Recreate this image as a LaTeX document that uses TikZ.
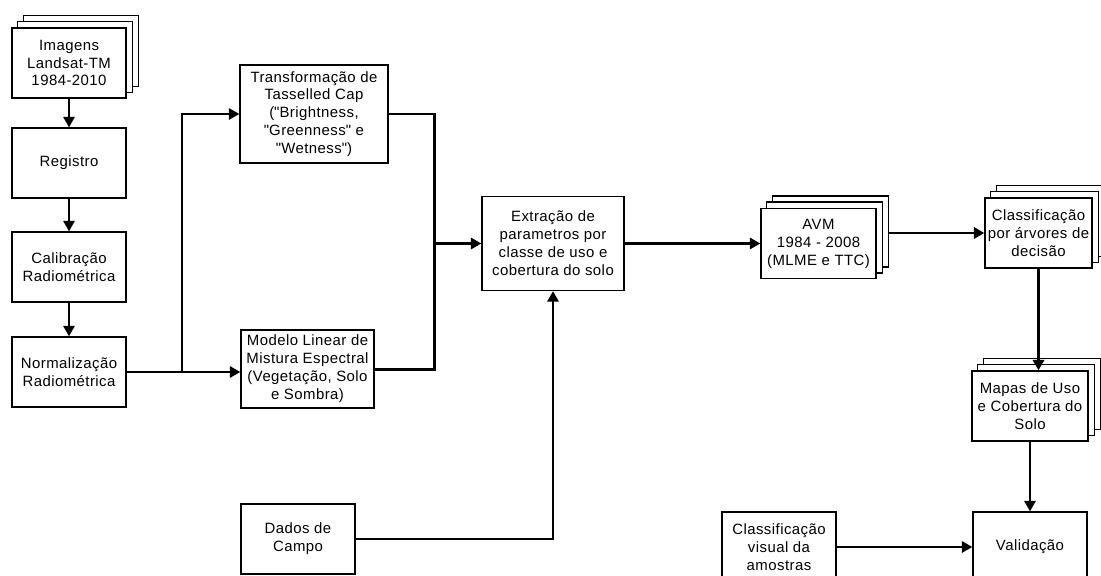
\documentclass[tikz,border=0pt]{standalone}
\usepackage{fontspec}
\setmainfont[LetterSpace=3]{Liberation Sans}
\usetikzlibrary{arrows.meta,backgrounds}

\newcommand{\dq}{\XeTeXglyph\XeTeXglyphindex "quotedbl"\relax}

\tikzset{
    box/.style={rectangle,draw,line width=0.8pt,fill=white,align=center,
        minimum width=2.28cm,minimum height=1.4cm,inner sep=1pt,
        font=\fontsize{8.5}{10.2}\selectfont},
    sheet/.style={draw,line width=0.8pt,fill=white},
    flow/.style={line width=1.2pt,-{Triangle[length=6pt,width=6.5pt]}},
    bigflow/.style={line width=1.7pt,-{Triangle[length=6pt,width=6.5pt]}},
    joint/.style={line width=1.7pt}
}

\begin{document}
\begin{tikzpicture}[x=0.02cm,y=-0.02cm]
    \useasboundingbox (0,0) rectangle (1101,575);

    %%%%%%%%%%%%%%%%%%%%%%%%%%%%%%%%%%%%%%%%%%%%%%%%%%%%%%

    % pre-processing chain
    \node[box] (img) at (69,63) {Imagens\\Landsat-TM\\1984-2010};
    \node[box] (reg) at (69,163) {Registro};
    \node[box] (cal) at (69,267) {Calibração\\Radiométrica};
    \node[box] (norm) at (69,372) {Normalização\\Radiométrica};

    \draw[flow] (img) to (reg);
    \draw[flow] (reg) to (cal);
    \draw[flow] (cal) to (norm);

    %%%%%%%%%%%%%%%%%%%%%%%%%%%%%%%%%%%%%%%%%%%%%%%%%%%%%%

    % tasselled cap and mixture model
    \node[box,minimum width=2.96cm,minimum height=1.96cm] (tc) at (314,114)
        {Transformação de\\Tasselled Cap\\(\dq Brightness,\\\dq Greenness\dq{} e\\\dq Wetness\dq)};
    \node[box,minimum width=2.66cm,minimum height=1.56cm] (mlme) at (307.5,369)
        {Modelo Linear de\\Mistura Espectral\\(Vegetação, Solo\\e Sombra)};

    \coordinate (split) at (182,372);
    \draw[line width=1.2pt] (norm.east |- split) to (split);
    \draw[flow] (split) to (mlme.west |- split);
    \draw[flow] (split) |- (tc.west);

    %%%%%%%%%%%%%%%%%%%%%%%%%%%%%%%%%%%%%%%%%%%%%%%%%%%%%%

    % parameter extraction
    \node[box,minimum width=2.84cm,minimum height=1.88cm] (extr) at (553,243.5)
        {Extração de\\parametros por\\classe de uso e\\cobertura do solo};

    \coordinate (merge) at (434,243.5);
    \draw[joint] (tc.east) -| (merge);
    \draw[joint] (mlme.east) -| (merge);
    \draw[flow] (merge) to (extr.west);

    % field data
    \node[box] (dados) at (298,539) {Dados de\\Campo};
    \draw[flow] (dados.east) -| (extr.south);

    %%%%%%%%%%%%%%%%%%%%%%%%%%%%%%%%%%%%%%%%%%%%%%%%%%%%%%

    % image stack
    \node[box,minimum width=2.3cm] (avm) at (818.5,243.5) {AVM\\1984 - 2008\\(MLME e TTC)};
    \draw[flow] (extr.east) to (avm.west);

    % decision tree classification
    \node[box,minimum width=2.14cm] (cla) at (1038.5,233) {Classificação\\por árvores de\\decisão};
    \draw[bigflow] ([xshift=0.22cm]avm.east |- cla.west) to (cla.west);

    % land use maps
    \node[box,minimum width=2.32cm] (map) at (1030,406) {Mapas de Uso\\e Cobertura do\\Solo};
    \draw[bigflow] (cla.south) to (cla.south |- map.north);

    %%%%%%%%%%%%%%%%%%%%%%%%%%%%%%%%%%%%%%%%%%%%%%%%%%%%%%

    % validation
    \node[box] (cvis) at (779,547) {Classificação\\visual da\\amostras};
    \node[box] (val) at (1030,547) {Validação};
    \draw[flow] (map.south) to (val.north);
    \draw[flow] (cvis.east) to (val.west);

    %%%%%%%%%%%%%%%%%%%%%%%%%%%%%%%%%%%%%%%%%%%%%%%%%%%%%%

    % sheets behind the stacked boxes
    \begin{scope}[on background layer]
        \foreach \n in {img,avm,cla,map}{
            \draw[sheet] ([shift={(12,-12)}]\n.south west) rectangle ([shift={(12,-12)}]\n.north east);
            \draw[sheet] ([shift={(6,-6)}]\n.south west) rectangle ([shift={(6,-6)}]\n.north east);
        }
    \end{scope}

\end{tikzpicture}
\end{document}
